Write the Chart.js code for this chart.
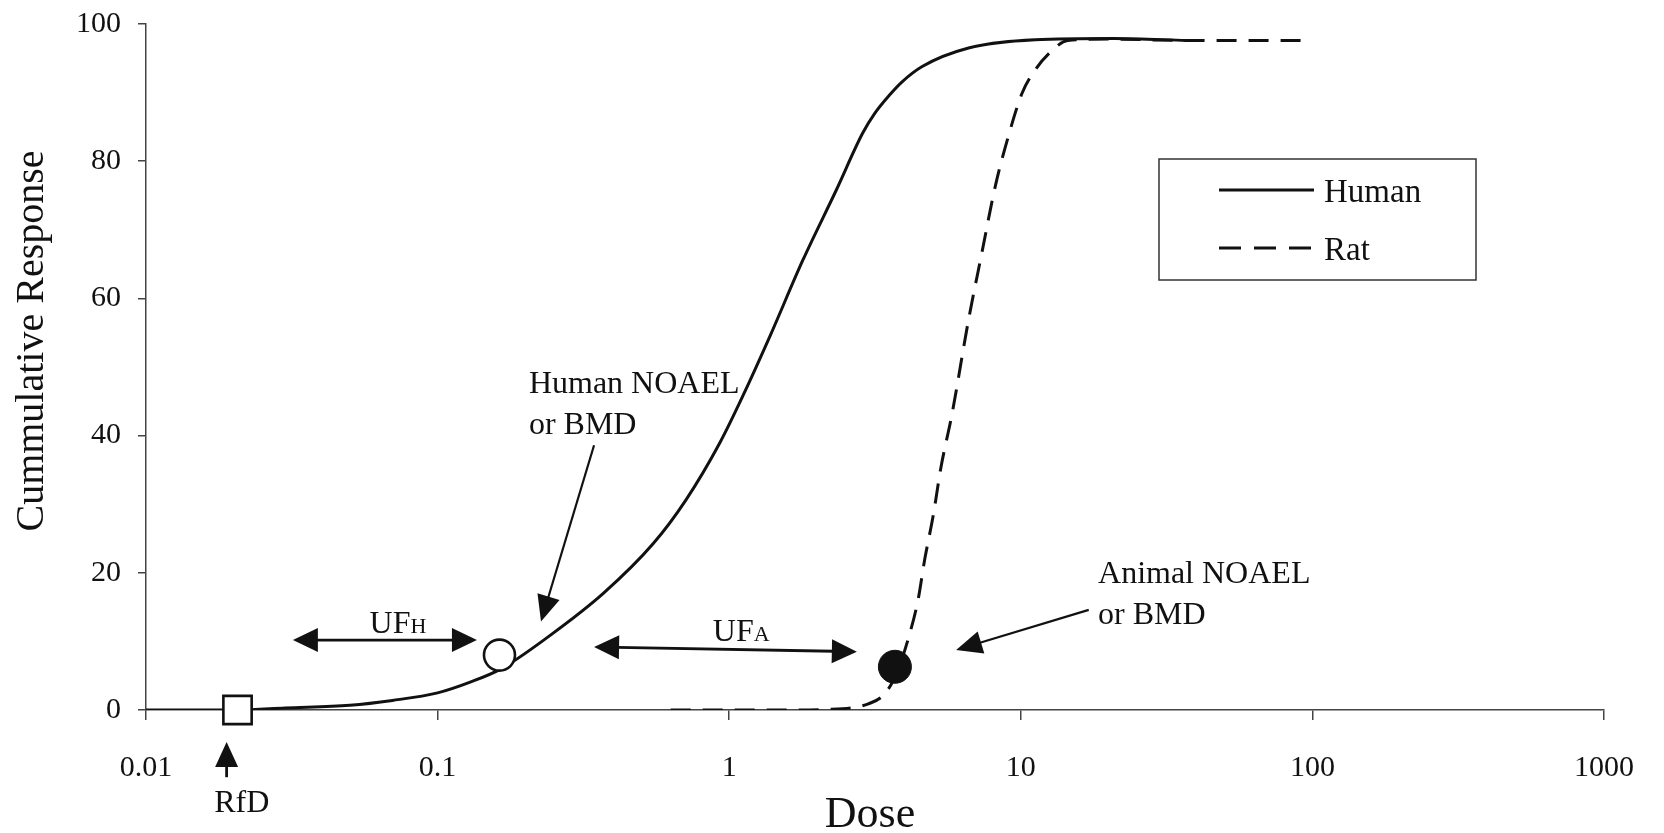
<!DOCTYPE html>
<html>
<head>
<meta charset="utf-8">
<title>Cumulative response vs dose</title>
<script src="https://cdn.jsdelivr.net/npm/chart.js@4.4.1/dist/chart.umd.min.js"></script>
<style>
  html, body { margin: 0; padding: 0; background: #fff; }
  #wrap { width: 1664px; height: 833px; position: relative; }
</style>
</head>
<body>
<div id="wrap"><canvas id="chart"></canvas></div>
<script>
// Courbes (dose en échelle log, réponse en %)
const humanDose = [0.01, 0.0207, 0.03, 0.05, 0.07, 0.1, 0.13, 0.165, 0.24, 0.37, 0.55, 0.71, 0.93, 1.12, 1.38, 1.79, 2.33, 2.87, 3.16, 3.54, 3.9, 4.59, 6.62, 11.2, 20.9, 37];
const humanResp = [0, 0, 0.3, 0.7, 1.4, 2.5, 4.1, 6.0, 10.7, 17.0, 24.3, 30.6, 39.0, 46, 54.5, 65.6, 75.8, 84.1, 87.0, 89.6, 91.5, 93.8, 96.5, 97.7, 97.9, 97.6];

const ratDose = [0.63, 1.5, 2.2, 2.7, 3.0, 3.35, 3.6, 3.8, 4.1, 4.44, 4.68, 5.0, 5.33, 5.8, 6.62, 7.35, 8.17, 9.06, 10.1, 11.2, 12.7, 14.5, 20, 37, 100];
const ratResp = [0, 0, 0.1, 0.4, 0.9, 2.0, 3.8, 6.0, 10.2, 16, 21.9, 28.2, 35.5, 43, 56.9, 66.6, 76.3, 83.6, 89.9, 93.3, 96, 97.6, 97.8, 97.6, 97.6];

// Points remarquables [dose, réponse]
const rfdPoint = [0.0206, 0];
const humanNoael = [0.163, 8.0];
const animalNoael = [3.7, 6.3];

const xTicks = [0.01, 0.1, 1, 10, 100, 1000];
const xTickLabels = ['0.01', '0.1', '1', '10', '100', '1000'];
const yTicks = [0, 20, 40, 60, 80, 100];
const seriesNames = ['Human', 'Rat'];

const SERIF = '"Liberation Serif", "DejaVu Serif", serif';
const INK = '#111';

// Flèches et textes d'annotation, placés en unités de données
const notes = {
    ufH:    { from: [0.0319, 10.2], to: [0.1364, 10.2], text: [0.0731, 11.2], main: 'UF', sub: 'H' },
    ufA:    { from: [0.344, 9.2], to: [2.74, 8.5], text: [1.10, 10.0], main: 'UF', sub: 'A' },
    human:  { tail: [0.344, 38.6], tip: [0.2263, 12.9], text: [0.2056, 46.2], lines: ['Human NOAEL', 'or BMD'] },
    animal: { tail: [17.1, 14.6], tip: [6.0, 8.75], text: [18.4, 18.5], lines: ['Animal NOAEL', 'or BMD'] },
    rfd:    { tail: [0.0189, -9.8], tip: [0.0189, -4.66], text: [0.0213, -14.9], label: 'RfD' }
};

function toPoints(xs, ys) {
    return xs.map((x, i) => ({ x: x, y: ys[i] }));
}

// Tête de flèche pleine, pointe en (x2, y2)
function head(ctx, x1, y1, x2, y2, len, w) {
    const a = Math.atan2(y2 - y1, x2 - x1);
    const c = Math.cos(a), s = Math.sin(a);
    ctx.beginPath();
    ctx.moveTo(x2, y2);
    ctx.lineTo(x2 - len * c + w / 2 * s, y2 - len * s - w / 2 * c);
    ctx.lineTo(x2 - len * c - w / 2 * s, y2 - len * s + w / 2 * c);
    ctx.closePath();
    ctx.fill();
}

function arrow(ctx, x1, y1, x2, y2, len, w, both, lw) {
    const a = Math.atan2(y2 - y1, x2 - x1);
    const c = Math.cos(a), s = Math.sin(a);
    ctx.lineWidth = lw;
    ctx.beginPath();
    ctx.moveTo(both ? x1 + (len - 2) * c : x1, both ? y1 + (len - 2) * s : y1);
    ctx.lineTo(x2 - (len - 2) * c, y2 - (len - 2) * s);
    ctx.stroke();
    head(ctx, x1, y1, x2, y2, len, w);
    if (both) head(ctx, x2, y2, x1, y1, len, w);
}

const annotationPlugin = {
    id: 'annotations',
    afterDatasetsDraw(chart) {
        const ctx = chart.ctx;
        const xs = chart.scales.x, ys = chart.scales.y;
        const px = p => [xs.getPixelForValue(p[0]), ys.getPixelForValue(p[1])];

        ctx.save();
        ctx.fillStyle = INK;
        ctx.strokeStyle = INK;
        ctx.lineCap = 'butt';

        // Doubles flèches UF
        ['ufH', 'ufA'].forEach(key => {
            const n = notes[key];
            const a = px(n.from), b = px(n.to);
            arrow(ctx, a[0], a[1], b[0], b[1], 25, 24, true, 2.8);
            const t = px(n.text);
            ctx.font = '32px ' + SERIF;
            const wMain = ctx.measureText(n.main).width;
            ctx.font = '22px ' + SERIF;
            const wSub = ctx.measureText(n.sub).width;
            const x0 = t[0] - (wMain + wSub) / 2;
            ctx.textBaseline = 'alphabetic';
            ctx.textAlign = 'left';
            ctx.font = '32px ' + SERIF;
            ctx.fillText(n.main, x0, t[1]);
            ctx.font = '22px ' + SERIF;
            ctx.fillText(n.sub, x0 + wMain, t[1]);
        });

        // Flèches NOAEL avec leurs textes
        ['human', 'animal'].forEach(key => {
            const n = notes[key];
            const a = px(n.tail), b = px(n.tip);
            arrow(ctx, a[0], a[1], b[0], b[1], 26, 23, false, 2.2);
            const t = px(n.text);
            ctx.font = '32px ' + SERIF;
            ctx.textAlign = 'left';
            ctx.textBaseline = 'alphabetic';
            n.lines.forEach((line, i) => ctx.fillText(line, t[0], t[1] + i * 41));
        });

        // RfD
        const r = notes.rfd;
        const ra = px(r.tail), rb = px(r.tip);
        arrow(ctx, ra[0], ra[1], rb[0], rb[1], 25, 23, false, 2.8);
        const rt = px(r.text);
        ctx.font = '32px ' + SERIF;
        ctx.textAlign = 'center';
        ctx.fillText(r.label, rt[0], rt[1]);

        // Titres des axes
        ctx.font = '44px ' + SERIF;
        ctx.textAlign = 'center';
        ctx.fillText('Dose', (chart.chartArea.left + chart.chartArea.right) / 2 - 5, 827);
        ctx.save();
        ctx.translate(43, 341);
        ctx.rotate(-Math.PI / 2);
        ctx.font = '40px ' + SERIF;
        ctx.fillText('Cummulative Response', 0, 0);
        ctx.restore();

        // Légende encadrée
        const box = { x: 1159, y: 159, w: 317, h: 121 };
        ctx.lineWidth = 1.5;
        ctx.strokeStyle = '#333';
        ctx.strokeRect(box.x, box.y, box.w, box.h);
        ctx.strokeStyle = INK;
        chart.data.datasets.slice(0, 2).forEach((ds, i) => {
            const yy = box.y + 31 + i * 58;
            ctx.lineWidth = 3;
            ctx.setLineDash(i === 1 ? [22, 13] : []);
            ctx.beginPath();
            ctx.moveTo(box.x + 60, yy);
            ctx.lineTo(box.x + 155, yy);
            ctx.stroke();
            ctx.setLineDash([]);
            ctx.font = '33px ' + SERIF;
            ctx.textAlign = 'left';
            ctx.textBaseline = 'alphabetic';
            ctx.fillText(ds.label, box.x + 165, yy + 12);
        });
        ctx.restore();
    }
};

const tickFont = { family: SERIF, size: 30 };

new Chart(document.getElementById('chart'), {
    type: 'line',
    data: {
        datasets: [
            {
                label: seriesNames[0],
                data: toPoints(humanDose, humanResp),
                borderColor: INK,
                borderWidth: 3,
                pointRadius: 0,
                cubicInterpolationMode: 'monotone',
                order: 3
            },
            {
                label: seriesNames[1],
                data: toPoints(ratDose, ratResp),
                borderColor: INK,
                borderWidth: 3,
                borderDash: [20, 12],
                pointRadius: 0,
                cubicInterpolationMode: 'monotone',
                order: 2
            },
            {
                label: 'RfD',
                data: [{ x: rfdPoint[0], y: rfdPoint[1] }],
                showLine: false,
                pointStyle: 'rect',
                pointRadius: 20,
                pointBackgroundColor: '#fff',
                pointBorderColor: INK,
                pointBorderWidth: 2.6,
                clip: false,
                order: 0
            },
            {
                label: 'Human NOAEL',
                data: [{ x: humanNoael[0], y: humanNoael[1] }],
                showLine: false,
                pointStyle: 'circle',
                pointRadius: 15.5,
                pointBackgroundColor: '#fff',
                pointBorderColor: INK,
                pointBorderWidth: 2.6,
                clip: false,
                order: 0
            },
            {
                label: 'Animal NOAEL',
                data: [{ x: animalNoael[0], y: animalNoael[1] }],
                showLine: false,
                pointStyle: 'circle',
                pointRadius: 16.5,
                pointBackgroundColor: INK,
                pointBorderColor: INK,
                pointBorderWidth: 1,
                clip: false,
                order: 0
            }
        ]
    },
    options: {
        responsive: true,
        maintainAspectRatio: false,
        animation: false,
        events: [],
        layout: { padding: { top: 24, right: 51, bottom: 0, left: 0 } },
        plugins: {
            legend: { display: false },
            tooltip: { enabled: false }
        },
        scales: {
            x: {
                type: 'logarithmic',
                min: 0.01,
                max: 1000,
                afterBuildTicks: scale => { scale.ticks = xTicks.map(v => ({ value: v })); },
                afterFit: scale => { scale.height = 123; },
                ticks: {
                    callback: (value, index) => xTickLabels[index],
                    font: tickFont,
                    color: INK,
                    padding: 30,
                    maxRotation: 0,
                    autoSkip: false
                },
                grid: { drawOnChartArea: false, tickLength: 10, color: '#444', lineWidth: 1.5 },
                border: { color: '#444', width: 1.5 }
            },
            y: {
                min: 0,
                max: 100,
                afterBuildTicks: scale => { scale.ticks = yTicks.map(v => ({ value: v })); },
                afterFit: scale => {
                    scale.width = 146;
                    // pas de marge supplémentaire pour les étiquettes : le haut du graphe reste à 24px
                    scale.paddingTop = 0;
                    scale.paddingBottom = 0;
                },
                ticks: { font: tickFont, color: INK, padding: 17 },
                grid: { drawOnChartArea: false, tickLength: 8, color: '#444', lineWidth: 1.5 },
                border: { color: '#444', width: 1.5 }
            }
        }
    },
    plugins: [annotationPlugin]
});
</script>
</body>
</html>
